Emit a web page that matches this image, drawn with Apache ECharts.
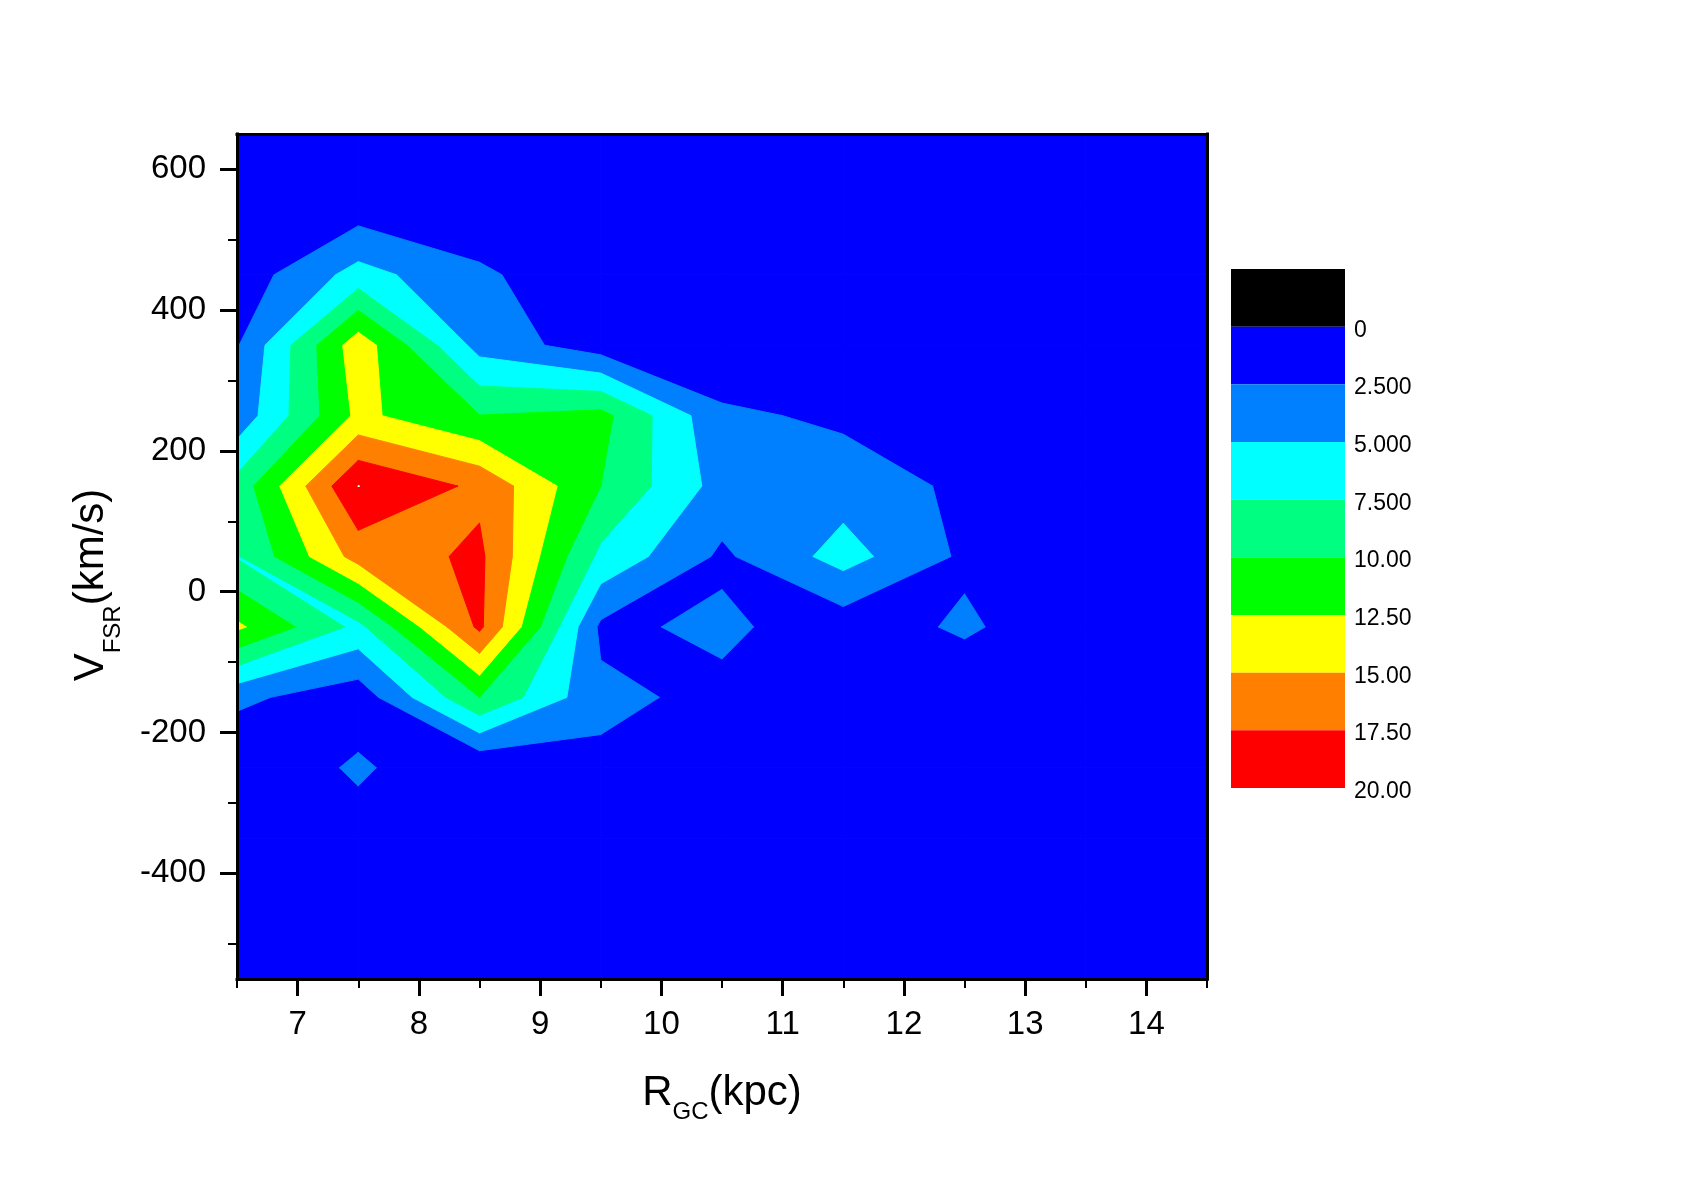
<!DOCTYPE html>
<html>
<head>
<meta charset="utf-8">
<title>R_GC vs V_FSR contour</title>
<script src="https://cdn.jsdelivr.net/npm/echarts@6/dist/echarts.min.js"></script>
<style>
  html, body { margin: 0; padding: 0; background: #fff; }
  #chart { width: 1695px; height: 1180px; }
</style>
</head>
<body>
<div id="chart"></div>
<script>
// grid nodes of the contour data
const rgc = [6.5, 7.5, 8.5, 9.5, 10.5, 11.5, 12.5, 13.5, 14.5];
const vfsr = [650, 550, 450, 350, 250, 150, 50, -50, -150, -250, -350, -450, -550];
// one row per vfsr value, one column per rgc value
const density = [
  [0.4, 0.5, 0.3, 0.2, 0.2, 0.2, 0.2, 0.2, 0.2],
  [0.6, 1.0, 0.2, 0.3, 0.2, 0.2, 0.2, 0.2, 0.2],
  [1.0, 5.92, 3.0, 0.3, 0.3, 0.3, 0.2, 0.2, 0.2],
  [2.3, 14.0, 4.0, 1.2, 0.2, 0.4, 0.3, 0.2, 0.2],
  [3.3, 13.1, 10.05, 10.8, 3.0, 2.0, 0.5, 0.2, 0.2],
  [8.4, 20.03, 16.95, 10.0, 4.0, 3.9, 2.0, 0.4, 0.2],
  [7.3, 16.0, 18.0, 6.9, 2.06, 5.98, 2.06, 0.5, 0.2],
  [12.97, 6.8, 18.0, 2.0, 3.0, 1.08, 2.89, 0.6, 0.2],
  [3.07, 1.0, 10.0, 3.06, 1.9, 0.8, 0.6, 0.5, 0.2],
  [0.2, 2.92, 0.1, 2.0, 1.0, 0.5, 0.4, 0.3, 0.2],
  [0.3, 1.3, 0.4, 0.5, 0.4, 0.3, 0.3, 0.2, 0.2],
  [0.2, 0.4, 0.3, 0.3, 0.3, 0.2, 0.2, 0.2, 0.2],
  [0.2, 0.2, 0.2, 0.2, 0.2, 0.2, 0.2, 0.2, 0.2]
];
const levels = [0, 2.5, 5, 7.5, 10, 12.5, 15, 17.5, 20];
const barEdges = [-2.5, 0, 2.5, 5, 7.5, 10, 12.5, 15, 17.5, 20];
const bandColors = ['#000000', '#0000ff', '#0080ff', '#00ffff', '#00ff80',
                    '#00ff00', '#ffff00', '#ff8000', '#ff0000', '#ffffff'];
const xTicks = [7, 8, 9, 10, 11, 12, 13, 14];
const xMinor = [6.5, 7.5, 8.5, 9.5, 10.5, 11.5, 12.5, 13.5, 14.5];
const yTicks = [-400, -200, 0, 200, 400, 600];
const yMinor = [-500, -300, -100, 100, 300, 500];

const FONT = '"Liberation Sans", Arial, sans-serif';

// region of one cell where value >= L (marching squares, high corners kept apart)
function superlevel(c, L) {
  const hi = c.map(p => p[2] >= L);
  const n = hi.filter(Boolean).length;
  if (n === 0) return [];
  const cross = (a, b) => {
    const t = (L - a[2]) / (b[2] - a[2]);
    return [a[0] + t * (b[0] - a[0]), a[1] + t * (b[1] - a[1])];
  };
  if (n === 2 && hi[0] === hi[2]) {
    const out = [];
    for (let i = 0; i < 4; i++) {
      if (!hi[i]) continue;
      const prev = c[(i + 3) % 4], next = c[(i + 1) % 4];
      out.push([cross(prev, c[i]), [c[i][0], c[i][1]], cross(c[i], next)]);
    }
    return out;
  }
  const pts = [];
  for (let i = 0; i < 4; i++) {
    const a = c[i], b = c[(i + 1) % 4];
    if (hi[i]) pts.push([a[0], a[1]]);
    if (hi[i] !== hi[(i + 1) % 4]) pts.push(cross(a, b));
  }
  return [pts];
}

function renderCell(params, api) {
  const ci = api.value(2), rj = api.value(3);
  const corners = [
    [rgc[ci], vfsr[rj], density[rj][ci]],
    [rgc[ci + 1], vfsr[rj], density[rj][ci + 1]],
    [rgc[ci + 1], vfsr[rj + 1], density[rj + 1][ci + 1]],
    [rgc[ci], vfsr[rj + 1], density[rj + 1][ci]]
  ];
  const children = [];
  levels.forEach((L, k) => {
    superlevel(corners, L).forEach(poly => {
      const col = bandColors[k + 1];
      children.push({
        type: 'polygon',
        z2: k,
        shape: { points: poly.map(p => api.coord(p)) },
        style: { fill: col, stroke: col, lineWidth: 1, lineJoin: 'round' }
      });
    });
  });
  return { type: 'group', children };
}

function renderBand(params, api) {
  const p1 = api.coord([0, api.value(0)]);
  const p2 = api.coord([1, api.value(1)]);
  return {
    type: 'rect',
    shape: { x: p1[0], y: Math.min(p1[1], p2[1]), width: p2[0] - p1[0], height: Math.abs(p2[1] - p1[1]) },
    style: { fill: bandColors[api.value(2)] }
  };
}

const cells = [];
for (let rj = 0; rj < vfsr.length - 1; rj++) {
  for (let ci = 0; ci < rgc.length - 1; ci++) {
    cells.push([rgc[ci], vfsr[rj], ci, rj]);
  }
}
const bands = [];
for (let k = 0; k < barEdges.length - 1; k++) bands.push([barEdges[k], barEdges[k + 1], k]);

// axis titles with subscripts
const ctx = document.createElement('canvas').getContext('2d');
function textWidth(s, size) { ctx.font = size + 'px ' + FONT; return ctx.measureText(s).width; }
function titleParts(parts, startX, baseY) {
  let x = startX;
  return parts.map(([t, size, dy]) => {
    const el = {
      type: 'text', x: x, y: baseY + dy,
      style: { text: t, fontSize: size, fontFamily: FONT, fill: '#000', align: 'left', verticalAlign: 'middle' }
    };
    x += textWidth(t, size);
    return el;
  });
}
const xParts = [['R', 42, 0], ['GC', 24, 19], ['(kpc)', 42, 0]];
const yParts = [['V', 42, 0], ['FSR', 24, 22], ['(km/s)', 42, 0]];
const partsWidth = p => p.reduce((s, [t, size]) => s + textWidth(t, size), 0);

const axisFont = { fontFamily: FONT, color: '#000' };
const frameLine = { show: true, onZero: false, lineStyle: { color: '#000', width: 3, cap: 'square' } };

const chart = echarts.init(document.getElementById('chart'));
const option = {
  animation: false,
  backgroundColor: '#fff',
  grid: [
    { left: 237, top: 134, width: 970, height: 845 },
    { left: 1231, top: 269, width: 114, height: 519 }
  ],
  xAxis: [
    {
      type: 'value', gridIndex: 0, position: 'bottom', min: 6.5, max: 14.5, z: 5,
      axisLine: frameLine,
      axisTick: { show: true, customValues: xTicks, length: 17, lineStyle: { color: '#000', width: 3 } },
      axisLabel: Object.assign({ customValues: xTicks, margin: 29, fontSize: 33 }, axisFont),
      splitLine: { show: false }
    },
    {
      type: 'value', gridIndex: 0, position: 'bottom', min: 6.5, max: 14.5, z: 5,
      axisLine: { show: false, onZero: false },
      axisTick: { show: true, customValues: xMinor, length: 9, lineStyle: { color: '#000', width: 2 } },
      axisLabel: { show: false },
      splitLine: { show: false }
    },
    {
      type: 'value', gridIndex: 0, position: 'top', min: 6.5, max: 14.5, z: 5,
      axisLine: frameLine, axisTick: { show: false }, axisLabel: { show: false }, splitLine: { show: false }
    },
    { type: 'value', gridIndex: 1, min: 0, max: 1, show: false }
  ],
  yAxis: [
    {
      type: 'value', gridIndex: 0, position: 'left', min: -550, max: 650, z: 5,
      axisLine: frameLine,
      axisTick: { show: true, customValues: yTicks, length: 17, lineStyle: { color: '#000', width: 3 } },
      axisLabel: Object.assign({ customValues: yTicks, margin: 31, fontSize: 33 }, axisFont),
      splitLine: { show: false }
    },
    {
      type: 'value', gridIndex: 0, position: 'left', min: -550, max: 650, z: 5,
      axisLine: { show: false, onZero: false },
      axisTick: { show: true, customValues: yMinor, length: 9, lineStyle: { color: '#000', width: 2 } },
      axisLabel: { show: false },
      splitLine: { show: false }
    },
    {
      type: 'value', gridIndex: 0, position: 'right', min: -550, max: 650, z: 5,
      axisLine: frameLine, axisTick: { show: false }, axisLabel: { show: false }, splitLine: { show: false }
    },
    {
      type: 'value', gridIndex: 1, position: 'right', min: -2.5, max: 20, inverse: true,
      axisLine: { show: false }, axisTick: { show: false }, splitLine: { show: false },
      axisLabel: Object.assign({
        customValues: levels, margin: 9,
        formatter: v => '{a|' + (v === 0 ? '0' : v.toPrecision(4)) + '}',
        rich: { a: { fontSize: 23, fontFamily: FONT, color: '#000', padding: [7, 0, 0, 0] } }
      }, axisFont)
    }
  ],
  series: [
    {
      type: 'custom', xAxisIndex: 0, yAxisIndex: 0, z: 1, silent: true,
      renderItem: renderCell, data: cells, encode: { x: 0, y: 1 }
    },
    {
      type: 'custom', xAxisIndex: 3, yAxisIndex: 3, z: 1, silent: true,
      renderItem: renderBand, data: bands, encode: { y: [0, 1] }
    }
  ],
  graphic: [
    { type: 'group', children: titleParts(xParts, 722 - partsWidth(xParts) / 2, 1093) },
    { type: 'group', x: 91, y: 585, rotation: Math.PI / 2,
      children: titleParts(yParts, -partsWidth(yParts) / 2, 0) }
  ]
};
chart.setOption(option);
</script>
</body>
</html>
